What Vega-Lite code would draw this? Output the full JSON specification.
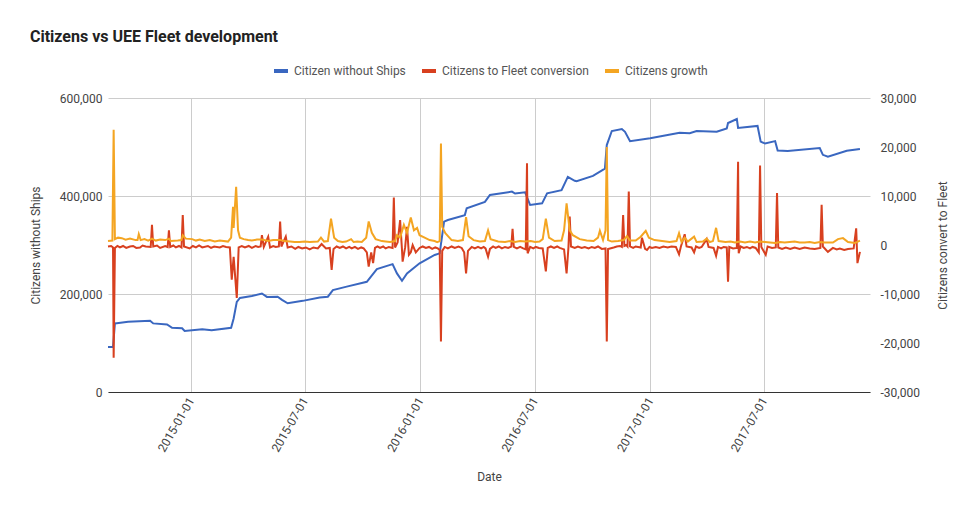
{
  "$schema": "https://vega.github.io/schema/vega-lite/v6.json",
  "width": 762,
  "height": 294,
  "autosize": {"type": "none"},
  "padding": {"left": 108, "top": 98, "right": 107, "bottom": 121},
  "background": "white",
  "title": {"text": "Citizens vs UEE Fleet development", "anchor": "start", "frame": "group", "dx": -78, "offset": 17, "fontSize": 16, "font": "Roboto", "fontWeight": "bold", "color": "#222222"},
  "config": {
    "view": {"stroke": null},
    "font": "Roboto",
    "axis": {"labelFont": "Roboto", "labelFontSize": 12, "labelColor": "#444444", "titleFont": "Roboto", "titleFontSize": 12, "titleColor": "#444444", "titleFontWeight": "normal", "ticks": false, "domain": false, "gridColor": "#cccccc"},
    "legend": {"labelFont": "Roboto", "labelFontSize": 12, "labelColor": "#555555"}
  },
  "datasets": {
    "ships": [
      {"date": "2014-08-22", "value": 92000}, {"date": "2014-08-30", "value": 92000}, {"date": "2014-09-02", "value": 140000}, {"date": "2014-09-05", "value": 140500},
      {"date": "2014-09-23", "value": 143500}, {"date": "2014-10-28", "value": 145600}, {"date": "2014-11-02", "value": 140000}, {"date": "2014-11-24", "value": 138000},
      {"date": "2014-12-02", "value": 131000}, {"date": "2014-12-18", "value": 130000}, {"date": "2014-12-22", "value": 124500}, {"date": "2015-01-19", "value": 128000},
      {"date": "2015-02-03", "value": 126000}, {"date": "2015-03-06", "value": 131000}, {"date": "2015-03-10", "value": 150000}, {"date": "2015-03-15", "value": 184000},
      {"date": "2015-03-20", "value": 192000}, {"date": "2015-04-08", "value": 196000}, {"date": "2015-04-24", "value": 201000}, {"date": "2015-05-02", "value": 194000},
      {"date": "2015-05-19", "value": 194500}, {"date": "2015-05-26", "value": 188000}, {"date": "2015-06-04", "value": 181000}, {"date": "2015-06-28", "value": 186000},
      {"date": "2015-07-25", "value": 193000}, {"date": "2015-08-07", "value": 194500}, {"date": "2015-08-15", "value": 208000}, {"date": "2015-09-06", "value": 215000},
      {"date": "2015-10-08", "value": 225000}, {"date": "2015-10-24", "value": 251000}, {"date": "2015-11-18", "value": 261000}, {"date": "2015-11-25", "value": 242000},
      {"date": "2015-12-03", "value": 227000}, {"date": "2015-12-11", "value": 242000}, {"date": "2015-12-31", "value": 262600}, {"date": "2016-01-24", "value": 279600},
      {"date": "2016-02-01", "value": 283000}, {"date": "2016-02-08", "value": 347600}, {"date": "2016-02-14", "value": 351000}, {"date": "2016-03-12", "value": 361000},
      {"date": "2016-03-15", "value": 375000}, {"date": "2016-04-13", "value": 388000}, {"date": "2016-04-21", "value": 402000}, {"date": "2016-05-26", "value": 409000},
      {"date": "2016-05-31", "value": 405000}, {"date": "2016-06-16", "value": 407500}, {"date": "2016-06-24", "value": 381600}, {"date": "2016-07-13", "value": 385000},
      {"date": "2016-07-21", "value": 405500}, {"date": "2016-08-13", "value": 412000}, {"date": "2016-08-23", "value": 439000}, {"date": "2016-09-03", "value": 431000},
      {"date": "2016-09-06", "value": 430000}, {"date": "2016-10-02", "value": 441000}, {"date": "2016-10-21", "value": 456000}, {"date": "2016-10-24", "value": 504000},
      {"date": "2016-11-01", "value": 532600}, {"date": "2016-11-17", "value": 536700}, {"date": "2016-11-22", "value": 531000}, {"date": "2016-11-30", "value": 512000},
      {"date": "2017-01-01", "value": 517700}, {"date": "2017-02-17", "value": 529000}, {"date": "2017-03-05", "value": 528000}, {"date": "2017-03-16", "value": 532600},
      {"date": "2017-04-17", "value": 531000}, {"date": "2017-05-03", "value": 538000}, {"date": "2017-05-05", "value": 549000}, {"date": "2017-05-19", "value": 557000},
      {"date": "2017-05-21", "value": 539000}, {"date": "2017-06-21", "value": 543000}, {"date": "2017-06-26", "value": 511000}, {"date": "2017-07-03", "value": 507000},
      {"date": "2017-07-19", "value": 512000}, {"date": "2017-07-23", "value": 493000}, {"date": "2017-08-08", "value": 492000}, {"date": "2017-09-28", "value": 498000},
      {"date": "2017-10-03", "value": 484000}, {"date": "2017-10-11", "value": 480000}, {"date": "2017-11-10", "value": 492500}, {"date": "2017-12-01", "value": 496000}
    ],
    "conversion": [
      {"date": "2014-08-22", "value": -300}, {"date": "2014-08-27", "value": -200}, {"date": "2014-08-30", "value": -500}, {"date": "2014-08-31", "value": -23000},
      {"date": "2014-09-02", "value": -600}, {"date": "2014-09-06", "value": -200}, {"date": "2014-09-10", "value": -500}, {"date": "2014-09-15", "value": -200}, {"date": "2014-09-20", "value": -600}, {"date": "2014-09-26", "value": -300}, {"date": "2014-10-01", "value": -200},
      {"date": "2014-10-06", "value": -600}, {"date": "2014-10-12", "value": -500}, {"date": "2014-10-16", "value": -100}, {"date": "2014-10-21", "value": -300}, {"date": "2014-10-29", "value": -400}, {"date": "2014-10-31", "value": 4100},
      {"date": "2014-11-02", "value": -300}, {"date": "2014-11-08", "value": -100}, {"date": "2014-11-13", "value": -600}, {"date": "2014-11-21", "value": -200}, {"date": "2014-11-25", "value": -400}, {"date": "2014-11-27", "value": 3000},
      {"date": "2014-11-29", "value": -400}, {"date": "2014-12-04", "value": -100}, {"date": "2014-12-08", "value": -500}, {"date": "2014-12-13", "value": -200}, {"date": "2014-12-17", "value": -500}, {"date": "2014-12-19", "value": 6100},
      {"date": "2014-12-21", "value": -300}, {"date": "2014-12-30", "value": -700}, {"date": "2015-01-04", "value": -200}, {"date": "2015-01-09", "value": -500}, {"date": "2015-01-14", "value": -100}, {"date": "2015-01-19", "value": -500},
      {"date": "2015-01-28", "value": -200}, {"date": "2015-02-02", "value": -600}, {"date": "2015-02-07", "value": -300}, {"date": "2015-02-16", "value": -500}, {"date": "2015-02-21", "value": -200}, {"date": "2015-02-26", "value": -400},
      {"date": "2015-03-04", "value": -500}, {"date": "2015-03-07", "value": -7100}, {"date": "2015-03-10", "value": -2400}, {"date": "2015-03-15", "value": -10800},
      {"date": "2015-03-18", "value": -500}, {"date": "2015-03-23", "value": -200}, {"date": "2015-03-28", "value": -500}, {"date": "2015-04-03", "value": -200}, {"date": "2015-04-08", "value": -600}, {"date": "2015-04-14", "value": -200}, {"date": "2015-04-18", "value": -400},
      {"date": "2015-04-22", "value": -300}, {"date": "2015-04-24", "value": 2000}, {"date": "2015-04-27", "value": -400}, {"date": "2015-05-04", "value": 1700}, {"date": "2015-05-07", "value": -500},
      {"date": "2015-05-12", "value": -200}, {"date": "2015-05-16", "value": -400}, {"date": "2015-05-21", "value": -300}, {"date": "2015-05-23", "value": 4800}, {"date": "2015-05-25", "value": -300}, {"date": "2015-06-01", "value": 1700},
      {"date": "2015-06-04", "value": -500}, {"date": "2015-06-10", "value": -300}, {"date": "2015-06-16", "value": -800}, {"date": "2015-06-21", "value": -400}, {"date": "2015-06-27", "value": -700}, {"date": "2015-07-03", "value": -500}, {"date": "2015-07-09", "value": -900},
      {"date": "2015-07-15", "value": -500}, {"date": "2015-07-22", "value": -700}, {"date": "2015-07-28", "value": 200}, {"date": "2015-08-04", "value": -700}, {"date": "2015-08-10", "value": -600},
      {"date": "2015-08-13", "value": -5100}, {"date": "2015-08-16", "value": -800}, {"date": "2015-08-21", "value": -300}, {"date": "2015-08-26", "value": -600}, {"date": "2015-08-31", "value": -300}, {"date": "2015-09-05", "value": -700},
      {"date": "2015-09-10", "value": -400}, {"date": "2015-09-14", "value": -700}, {"date": "2015-09-19", "value": -400}, {"date": "2015-09-24", "value": -800}, {"date": "2015-09-29", "value": -500}, {"date": "2015-10-03", "value": -700}, {"date": "2015-10-08", "value": -1500},
      {"date": "2015-10-11", "value": -4400}, {"date": "2015-10-15", "value": -1500}, {"date": "2015-10-18", "value": -3700}, {"date": "2015-10-21", "value": -600},
      {"date": "2015-10-25", "value": -300}, {"date": "2015-10-29", "value": -600}, {"date": "2015-11-03", "value": -300}, {"date": "2015-11-07", "value": -700}, {"date": "2015-11-12", "value": -400}, {"date": "2015-11-18", "value": -600}, {"date": "2015-11-20", "value": 9700},
      {"date": "2015-11-22", "value": -500}, {"date": "2015-11-26", "value": 500}, {"date": "2015-11-30", "value": 5100}, {"date": "2015-12-03", "value": -1000},
      {"date": "2015-12-04", "value": -3400}, {"date": "2015-12-08", "value": -500}, {"date": "2015-12-11", "value": 3700}, {"date": "2015-12-14", "value": -2000},
      {"date": "2015-12-17", "value": -1500}, {"date": "2015-12-20", "value": 0}, {"date": "2015-12-25", "value": -1500}, {"date": "2015-12-31", "value": -600},
      {"date": "2016-01-05", "value": -300}, {"date": "2016-01-10", "value": -600}, {"date": "2016-01-15", "value": -400}, {"date": "2016-01-20", "value": -800}, {"date": "2016-01-25", "value": -500}, {"date": "2016-01-29", "value": -700}, {"date": "2016-02-01", "value": -1000},
      {"date": "2016-02-03", "value": -19700}, {"date": "2016-02-05", "value": -1200}, {"date": "2016-02-09", "value": -400}, {"date": "2016-02-14", "value": -700}, {"date": "2016-02-20", "value": -300}, {"date": "2016-02-25", "value": -600},
      {"date": "2016-03-02", "value": -300}, {"date": "2016-03-07", "value": -600}, {"date": "2016-03-11", "value": -1500}, {"date": "2016-03-14", "value": -5800}, {"date": "2016-03-17", "value": -1200},
      {"date": "2016-03-23", "value": -400}, {"date": "2016-03-28", "value": -700}, {"date": "2016-04-02", "value": -400}, {"date": "2016-04-07", "value": -700}, {"date": "2016-04-11", "value": -400}, {"date": "2016-04-14", "value": -700},
      {"date": "2016-04-18", "value": -2400}, {"date": "2016-04-21", "value": -800}, {"date": "2016-04-26", "value": -300}, {"date": "2016-04-30", "value": -600}, {"date": "2016-05-05", "value": -300}, {"date": "2016-05-10", "value": -700},
      {"date": "2016-05-15", "value": -400}, {"date": "2016-05-20", "value": -600}, {"date": "2016-05-25", "value": -300}, {"date": "2016-05-27", "value": 3300}, {"date": "2016-05-29", "value": -400},
      {"date": "2016-06-03", "value": -700}, {"date": "2016-06-08", "value": -400}, {"date": "2016-06-13", "value": -700}, {"date": "2016-06-17", "value": -900}, {"date": "2016-06-19", "value": 16700}, {"date": "2016-06-20", "value": -1700},
      {"date": "2016-06-24", "value": -400}, {"date": "2016-06-29", "value": -700}, {"date": "2016-07-03", "value": -400}, {"date": "2016-07-08", "value": -600}, {"date": "2016-07-14", "value": -700}, {"date": "2016-07-19", "value": -5400},
      {"date": "2016-07-22", "value": -600}, {"date": "2016-07-27", "value": -300}, {"date": "2016-08-01", "value": -600}, {"date": "2016-08-06", "value": -300}, {"date": "2016-08-10", "value": -600}, {"date": "2016-08-17", "value": -900},
      {"date": "2016-08-21", "value": -5800}, {"date": "2016-08-24", "value": -400}, {"date": "2016-08-26", "value": 5800}, {"date": "2016-08-28", "value": -300},
      {"date": "2016-09-03", "value": -600}, {"date": "2016-09-08", "value": -300}, {"date": "2016-09-14", "value": -600}, {"date": "2016-09-19", "value": -400}, {"date": "2016-09-25", "value": -700}, {"date": "2016-09-30", "value": -400}, {"date": "2016-10-05", "value": -600}, {"date": "2016-10-10", "value": -300},
      {"date": "2016-10-16", "value": -800}, {"date": "2016-10-22", "value": -700}, {"date": "2016-10-24", "value": -19700}, {"date": "2016-10-26", "value": -800},
      {"date": "2016-11-04", "value": -500}, {"date": "2016-11-09", "value": -300}, {"date": "2016-11-14", "value": -200}, {"date": "2016-11-17", "value": -400}, {"date": "2016-11-19", "value": 6100}, {"date": "2016-11-21", "value": -200},
      {"date": "2016-11-24", "value": 0}, {"date": "2016-11-26", "value": -300}, {"date": "2016-11-28", "value": 10900}, {"date": "2016-11-30", "value": -300}, {"date": "2016-12-05", "value": -600}, {"date": "2016-12-09", "value": -300},
      {"date": "2016-12-17", "value": -500}, {"date": "2016-12-19", "value": 1500}, {"date": "2016-12-24", "value": -800}, {"date": "2016-12-27", "value": -1000}, {"date": "2016-12-31", "value": -400}, {"date": "2017-01-04", "value": -600},
      {"date": "2017-01-10", "value": -400}, {"date": "2017-01-16", "value": -600}, {"date": "2017-01-22", "value": -300}, {"date": "2017-01-29", "value": -500}, {"date": "2017-02-04", "value": -300}, {"date": "2017-02-11", "value": -400}, {"date": "2017-02-16", "value": -1900},
      {"date": "2017-02-19", "value": -300}, {"date": "2017-02-25", "value": 2200}, {"date": "2017-02-28", "value": -300}, {"date": "2017-03-08", "value": -500},
      {"date": "2017-03-12", "value": -1500}, {"date": "2017-03-15", "value": -300}, {"date": "2017-03-20", "value": -600}, {"date": "2017-03-24", "value": -400}, {"date": "2017-04-01", "value": 1200},
      {"date": "2017-04-04", "value": -400}, {"date": "2017-04-12", "value": -600}, {"date": "2017-04-16", "value": -2200}, {"date": "2017-04-19", "value": -400},
      {"date": "2017-04-24", "value": -700}, {"date": "2017-04-28", "value": -400}, {"date": "2017-05-03", "value": -500}, {"date": "2017-05-05", "value": -7500}, {"date": "2017-05-07", "value": -400}, {"date": "2017-05-13", "value": -700}, {"date": "2017-05-19", "value": -600},
      {"date": "2017-05-21", "value": 17000}, {"date": "2017-05-22", "value": -1700}, {"date": "2017-05-25", "value": -300}, {"date": "2017-05-30", "value": -600}, {"date": "2017-06-04", "value": -400},
      {"date": "2017-06-09", "value": -700}, {"date": "2017-06-13", "value": -400}, {"date": "2017-06-18", "value": -600}, {"date": "2017-06-23", "value": -1500}, {"date": "2017-06-25", "value": 16200}, {"date": "2017-06-27", "value": -400},
      {"date": "2017-07-04", "value": -2000}, {"date": "2017-07-07", "value": -300}, {"date": "2017-07-14", "value": -600}, {"date": "2017-07-20", "value": -500}, {"date": "2017-07-22", "value": 10600},
      {"date": "2017-07-24", "value": -500}, {"date": "2017-07-30", "value": -800}, {"date": "2017-08-05", "value": -500}, {"date": "2017-08-12", "value": -800}, {"date": "2017-08-19", "value": -500}, {"date": "2017-08-27", "value": -800}, {"date": "2017-09-04", "value": -500},
      {"date": "2017-09-12", "value": -700}, {"date": "2017-09-20", "value": -800}, {"date": "2017-09-29", "value": -600}, {"date": "2017-10-01", "value": 8200}, {"date": "2017-10-03", "value": -300},
      {"date": "2017-10-11", "value": -1400}, {"date": "2017-10-19", "value": -600}, {"date": "2017-10-25", "value": -900}, {"date": "2017-10-30", "value": -700}, {"date": "2017-11-06", "value": -1000}, {"date": "2017-11-12", "value": -800},
      {"date": "2017-11-21", "value": -700}, {"date": "2017-11-25", "value": 3400}, {"date": "2017-11-27", "value": -3700}, {"date": "2017-12-01", "value": -1400}
    ],
    "growth": [
      {"date": "2014-08-22", "value": 800}, {"date": "2014-08-29", "value": 900}, {"date": "2014-08-31", "value": 23500}, {"date": "2014-09-02", "value": 1200},
      {"date": "2014-09-07", "value": 1500}, {"date": "2014-09-13", "value": 1400}, {"date": "2014-09-19", "value": 1100}, {"date": "2014-09-26", "value": 1300}, {"date": "2014-10-05", "value": 1000},
      {"date": "2014-10-08", "value": 1000}, {"date": "2014-10-10", "value": 2200}, {"date": "2014-10-13", "value": 1000}, {"date": "2014-10-19", "value": 1200}, {"date": "2014-10-25", "value": 900}, {"date": "2014-10-31", "value": 1300},
      {"date": "2014-11-06", "value": 900}, {"date": "2014-11-13", "value": 1100}, {"date": "2014-11-21", "value": 1000}, {"date": "2014-11-27", "value": 1300}, {"date": "2014-11-30", "value": 800},
      {"date": "2014-12-11", "value": 900}, {"date": "2014-12-17", "value": 1000}, {"date": "2014-12-19", "value": 2000}, {"date": "2014-12-24", "value": 1300}, {"date": "2015-01-03", "value": 1200},
      {"date": "2015-01-09", "value": 900}, {"date": "2015-01-15", "value": 1100}, {"date": "2015-01-23", "value": 800}, {"date": "2015-01-31", "value": 1000}, {"date": "2015-02-08", "value": 700}, {"date": "2015-02-16", "value": 900}, {"date": "2015-03-01", "value": 700},
      {"date": "2015-03-06", "value": 1500}, {"date": "2015-03-09", "value": 7800}, {"date": "2015-03-10", "value": 3500}, {"date": "2015-03-14", "value": 11900},
      {"date": "2015-03-17", "value": 3000}, {"date": "2015-03-20", "value": 1500}, {"date": "2015-03-26", "value": 1200}, {"date": "2015-04-02", "value": 1000}, {"date": "2015-04-08", "value": 900},
      {"date": "2015-04-16", "value": 1100}, {"date": "2015-04-24", "value": 1100}, {"date": "2015-05-04", "value": 800}, {"date": "2015-05-12", "value": 1000}, {"date": "2015-05-23", "value": 1000}, {"date": "2015-05-30", "value": 800}, {"date": "2015-06-08", "value": 700},
      {"date": "2015-06-15", "value": 600}, {"date": "2015-06-23", "value": 600}, {"date": "2015-07-01", "value": 700}, {"date": "2015-07-09", "value": 600}, {"date": "2015-07-22", "value": 700}, {"date": "2015-07-27", "value": 1500},
      {"date": "2015-08-01", "value": 700}, {"date": "2015-08-07", "value": 800}, {"date": "2015-08-12", "value": 5400}, {"date": "2015-08-17", "value": 1500},
      {"date": "2015-08-23", "value": 800}, {"date": "2015-08-30", "value": 600}, {"date": "2015-09-05", "value": 700}, {"date": "2015-09-13", "value": 1200}, {"date": "2015-09-17", "value": 600},
      {"date": "2015-09-23", "value": 700}, {"date": "2015-09-30", "value": 600}, {"date": "2015-10-07", "value": 1500}, {"date": "2015-10-11", "value": 4800}, {"date": "2015-10-16", "value": 2500},
      {"date": "2015-10-22", "value": 1200}, {"date": "2015-11-01", "value": 800}, {"date": "2015-11-07", "value": 700}, {"date": "2015-11-14", "value": 600}, {"date": "2015-11-22", "value": 800},
      {"date": "2015-11-25", "value": 2000}, {"date": "2015-11-30", "value": 1500}, {"date": "2015-12-06", "value": 4100}, {"date": "2015-12-11", "value": 2500},
      {"date": "2015-12-17", "value": 5600}, {"date": "2015-12-22", "value": 3000}, {"date": "2015-12-27", "value": 3500}, {"date": "2015-12-31", "value": 2000},
      {"date": "2016-01-08", "value": 1500}, {"date": "2016-01-16", "value": 1000}, {"date": "2016-01-24", "value": 800}, {"date": "2016-01-28", "value": 600}, {"date": "2016-02-01", "value": 800},
      {"date": "2016-02-03", "value": 20700}, {"date": "2016-02-05", "value": 3700}, {"date": "2016-02-10", "value": 2400}, {"date": "2016-02-20", "value": 1000},
      {"date": "2016-03-01", "value": 800}, {"date": "2016-03-09", "value": 1000}, {"date": "2016-03-14", "value": 5700}, {"date": "2016-03-18", "value": 1800},
      {"date": "2016-03-26", "value": 1000}, {"date": "2016-04-05", "value": 700}, {"date": "2016-04-13", "value": 800}, {"date": "2016-04-18", "value": 3000},
      {"date": "2016-04-22", "value": 1200}, {"date": "2016-05-04", "value": 700}, {"date": "2016-05-15", "value": 600}, {"date": "2016-05-23", "value": 800}, {"date": "2016-05-31", "value": 600},
      {"date": "2016-06-08", "value": 800}, {"date": "2016-06-16", "value": 700}, {"date": "2016-06-25", "value": 800}, {"date": "2016-07-02", "value": 600}, {"date": "2016-07-09", "value": 700}, {"date": "2016-07-14", "value": 1200}, {"date": "2016-07-19", "value": 5400},
      {"date": "2016-07-24", "value": 1500}, {"date": "2016-08-02", "value": 800}, {"date": "2016-08-13", "value": 900}, {"date": "2016-08-17", "value": 3000},
      {"date": "2016-08-21", "value": 8500}, {"date": "2016-08-26", "value": 3000}, {"date": "2016-08-31", "value": 2000}, {"date": "2016-09-11", "value": 1200},
      {"date": "2016-09-22", "value": 900}, {"date": "2016-10-03", "value": 800}, {"date": "2016-10-10", "value": 1500}, {"date": "2016-10-13", "value": 2900},
      {"date": "2016-10-18", "value": 1000}, {"date": "2016-10-22", "value": 3000}, {"date": "2016-10-24", "value": 20000}, {"date": "2016-10-26", "value": 1000},
      {"date": "2016-11-01", "value": 700}, {"date": "2016-11-11", "value": 800}, {"date": "2016-11-20", "value": 1000}, {"date": "2016-11-25", "value": 1800},
      {"date": "2016-11-30", "value": 900}, {"date": "2016-12-09", "value": 900}, {"date": "2016-12-17", "value": 1700}, {"date": "2016-12-25", "value": 2900},
      {"date": "2016-12-30", "value": 1500}, {"date": "2017-01-08", "value": 1000}, {"date": "2017-01-20", "value": 800}, {"date": "2017-02-01", "value": 600},
      {"date": "2017-02-12", "value": 800}, {"date": "2017-02-16", "value": 2400}, {"date": "2017-02-20", "value": 600}, {"date": "2017-02-25", "value": 1500},
      {"date": "2017-03-02", "value": 700}, {"date": "2017-03-12", "value": 1700}, {"date": "2017-03-16", "value": 600}, {"date": "2017-03-26", "value": 700},
      {"date": "2017-04-01", "value": 1300}, {"date": "2017-04-06", "value": 600}, {"date": "2017-04-11", "value": 800}, {"date": "2017-04-16", "value": 3500},
      {"date": "2017-04-20", "value": 800}, {"date": "2017-05-01", "value": 600}, {"date": "2017-05-09", "value": 700}, {"date": "2017-05-16", "value": 500}, {"date": "2017-05-24", "value": 700}, {"date": "2017-06-01", "value": 500},
      {"date": "2017-06-09", "value": 700}, {"date": "2017-06-17", "value": 500}, {"date": "2017-06-25", "value": 700}, {"date": "2017-07-03", "value": 600}, {"date": "2017-07-11", "value": 500}, {"date": "2017-07-19", "value": 400}, {"date": "2017-07-27", "value": 600}, {"date": "2017-08-03", "value": 500},
      {"date": "2017-08-11", "value": 600}, {"date": "2017-08-19", "value": 700}, {"date": "2017-08-27", "value": 500}, {"date": "2017-09-04", "value": 500}, {"date": "2017-09-12", "value": 600}, {"date": "2017-09-20", "value": 400}, {"date": "2017-09-28", "value": 600}, {"date": "2017-10-06", "value": 500},
      {"date": "2017-10-19", "value": 500}, {"date": "2017-10-27", "value": 1200}, {"date": "2017-11-04", "value": 1400}, {"date": "2017-11-12", "value": 600},
      {"date": "2017-11-23", "value": 400}, {"date": "2017-12-01", "value": 900}
    ]
  },
  "encoding": {
    "x": {
      "field": "date", "type": "temporal",
      "scale": {"domain": ["2014-08-22", "2017-12-17"]},
      "axis": {
        "values": ["2015-01-01", "2015-07-01", "2016-01-01", "2016-07-01", "2017-01-01", "2017-07-01"],
        "format": "%Y-%m-%d", "labelAngle": -60, "labelAlign": "right", "labelBaseline": "middle", "labelPadding": 6,
        "title": "Date", "titleY": 84, "titleBaseline": "middle",
        "grid": true, "domain": true, "domainColor": "#333333", "domainWidth": 1
      }
    }
  },
  "layer": [
    {
      "data": {"name": "ships"},
      "mark": {"type": "line", "strokeWidth": 2},
      "encoding": {
        "y": {
          "field": "value", "type": "quantitative",
          "scale": {"domain": [0, 600000], "nice": false},
          "axis": {"orient": "left", "title": "Citizens without Ships", "values": [0, 200000, 400000, 600000], "format": ",.0f", "grid": true, "labelPadding": 6, "titleX": -73, "titleY": 147, "titleAngle": -90, "titleAlign": "center", "titleBaseline": "middle"}
        },
        "color": {
          "datum": "Citizen without Ships", "type": "nominal",
          "scale": {"domain": ["Citizen without Ships", "Citizens to Fleet conversion", "Citizens growth"], "range": ["#3a67c0", "#d8401f", "#f4a522"]},
          "legend": {"title": null, "orient": "none", "direction": "horizontal", "legendX": 164, "legendY": -36, "padding": 0, "symbolType": "stroke", "symbolStrokeWidth": 4, "symbolSize": 196, "columnPadding": 8, "labelOffset": 4}
        }
      }
    },
    {
      "encoding": {
        "y": {
          "field": "value", "type": "quantitative",
          "scale": {"domain": [-30000, 30000], "nice": false},
          "axis": {"orient": "right", "title": "Citizens convert to Fleet", "values": [-30000, -20000, -10000, 0, 10000, 20000, 30000], "format": ",.0f", "grid": false, "labelPadding": 10, "titleX": 72, "titleY": 147, "titleAngle": -90, "titleAlign": "center", "titleBaseline": "middle", "labelExpr": "replace(datum.label, '−', '-')"}
        }
      },
      "layer": [
        {"data": {"name": "conversion"}, "mark": {"type": "line", "strokeWidth": 2}, "encoding": {"color": {"datum": "Citizens to Fleet conversion", "type": "nominal"}}},
        {"data": {"name": "growth"}, "mark": {"type": "line", "strokeWidth": 2}, "encoding": {"color": {"datum": "Citizens growth", "type": "nominal"}}}
      ]
    }
  ],
  "resolve": {"scale": {"y": "independent"}}
}
